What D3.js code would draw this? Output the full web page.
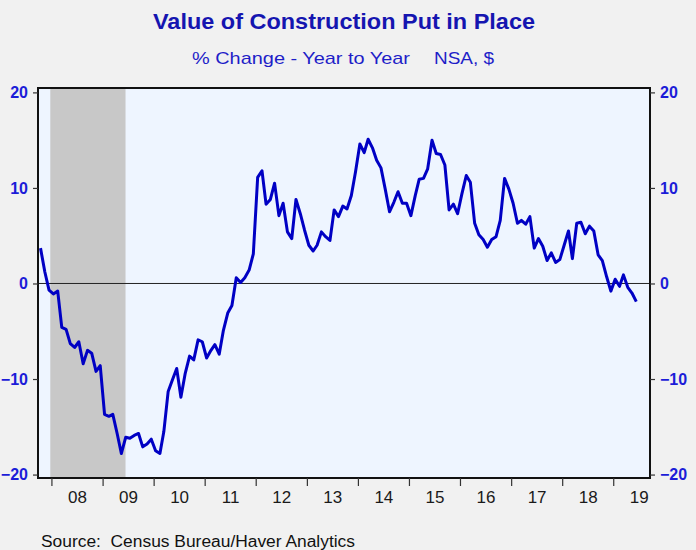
<!DOCTYPE html>
<html>
<head>
<meta charset="utf-8">
<script src="https://cdn.jsdelivr.net/npm/d3@7"></script>
<style>
  body { margin: 0; background: #f1f1f1; }
  svg { display: block; font-family: "Liberation Sans", Arial, sans-serif; }
</style>
</head>
<body>
<div id="chart"></div>
<script>
// Monthly % change, year to year (NSA), Oct 2007 .. Jun 2019
var startMonth = new Date(2007, 9, 1);
var values2007 = [3.7, 1.2, -0.7];
var values2008 = [-1.1, -0.8, -4.6, -4.8, -6.3, -6.7, -6.1, -8.4, -7.0, -7.3, -9.2, -8.6];
var values2009 = [-13.7, -13.9, -13.7, -15.7, -17.8, -16.1, -16.2, -15.9, -15.7, -17.1, -16.8, -16.3];
var values2010 = [-17.5, -17.8, -15.5, -11.3, -10.1, -8.9, -11.9, -9.4, -7.6, -8.0, -5.9, -6.1];
var values2011 = [-7.8, -7.0, -6.4, -7.4, -4.9, -3.1, -2.3, 0.6, 0.1, 0.6, 1.4, 3.1];
var values2012 = [11.1, 11.8, 8.3, 8.8, 10.5, 7.1, 8.4, 5.4, 4.7, 8.8, 7.3, 5.6];
var values2013 = [4.0, 3.4, 4.0, 5.4, 4.9, 4.5, 7.7, 7.0, 8.1, 7.8, 9.2, 11.7];
var values2014 = [14.6, 13.7, 15.1, 14.2, 12.9, 12.1, 9.9, 7.5, 8.5, 9.6, 8.4, 8.4];
var values2015 = [7.1, 9.2, 10.9, 11.0, 12.0, 15.0, 13.6, 13.5, 12.4, 7.7, 8.3, 7.3];
var values2016 = [9.4, 11.3, 10.6, 6.3, 5.1, 4.6, 3.8, 4.6, 4.9, 6.6, 11.0, 9.9];
var values2017 = [8.4, 6.3, 6.6, 6.2, 7.0, 3.7, 4.7, 3.9, 2.4, 3.2, 2.2, 2.5];
var values2018 = [4.0, 5.5, 2.6, 6.3, 6.4, 5.2, 6.0, 5.5, 3.0, 2.4, 0.7, -0.8];
var values2019 = [0.45, -0.3, 0.9, -0.4, -1.0, -1.9];

// Recession (shaded) and axis ticks
var recession = [new Date(2007, 11, 24), new Date(2009, 5, 14)];
var yearTicks = d3.range(2008, 2020);
var yTicks = [-20, -10, 0, 10, 20];

var allValues = [].concat(values2007, values2008, values2009, values2010, values2011,
    values2012, values2013, values2014, values2015, values2016, values2017,
    values2018, values2019);

// each monthly point sits at mid-month
var data = allValues.map(function(v, i) {
    return { date: new Date(startMonth.getFullYear(), startMonth.getMonth() + i, 15), value: v };
});

var svgWidth = 696;
var svgHeight = 550;

var margin = { top: 88, right: 46, bottom: 72, left: 38 };
var width = svgWidth - margin.left - margin.right;
var height = svgHeight - margin.top - margin.bottom;

var svg = d3.select("#chart")
    .append("svg")
    .attr("width", svgWidth)
    .attr("height", svgHeight);

svg.append("rect")
    .attr("width", svgWidth)
    .attr("height", svgHeight)
    .attr("fill", "#f1f1f1");

var chartGroup = svg.append("g")
    .attr("transform", `translate(${margin.left}, ${margin.top})`);

var xScale = d3.scaleTime()
    .domain([new Date(2007, 8, 27), new Date(2019, 8, 21)])
    .range([0, width]);

var yScale = d3.scaleLinear()
    .domain([-20.36, 20.46])
    .range([height, 0]);

// plot background
chartGroup.append("rect")
    .attr("width", width)
    .attr("height", height)
    .attr("fill", "#eef5ff");

// recession band
chartGroup.append("rect")
    .attr("x", xScale(recession[0]))
    .attr("y", 0)
    .attr("width", xScale(recession[1]) - xScale(recession[0]))
    .attr("height", height)
    .attr("fill", "#c8c8c8");

// zero line
chartGroup.append("line")
    .attr("x1", 0)
    .attr("x2", width)
    .attr("y1", yScale(0))
    .attr("y2", yScale(0))
    .attr("stroke", "#222")
    .attr("stroke-width", 1);

var line = d3.line()
    .x(d => xScale(d.date))
    .y(d => yScale(d.value));

chartGroup.append("path")
    .datum(data)
    .attr("fill", "none")
    .attr("stroke", "#0000c4")
    .attr("stroke-width", 3)
    .attr("stroke-linejoin", "round")
    .attr("d", line);

// frame
chartGroup.append("rect")
    .attr("width", width)
    .attr("height", height)
    .attr("fill", "none")
    .attr("stroke", "#111")
    .attr("stroke-width", 2);

// y axes, both sides
var leftAxis = d3.axisLeft(yScale)
    .tickValues(yTicks)
    .tickSize(5)
    .tickPadding(5)
    .tickSizeOuter(0);

var rightAxis = d3.axisRight(yScale)
    .tickValues(yTicks)
    .tickSize(5)
    .tickPadding(5)
    .tickSizeOuter(0);

chartGroup.append("g")
    .attr("class", "y-axis")
    .call(leftAxis);

chartGroup.append("g")
    .attr("class", "y-axis")
    .attr("transform", `translate(${width}, 0)`)
    .call(rightAxis);

chartGroup.selectAll(".y-axis text")
    .attr("fill", "#1c1cd8")
    .attr("font-size", 16)
    .attr("font-weight", "bold");

// x axis: year ticks, labels centred on each year
var bottomAxis = d3.axisBottom(xScale)
    .tickValues(yearTicks.map(y => new Date(y, 0, 1)))
    .tickSize(8)
    .tickFormat("")
    .tickSizeOuter(0);

var labelAxis = d3.axisBottom(xScale)
    .tickValues(yearTicks.map(y => new Date(y, 6, 2)))
    .tickSize(0)
    .tickPadding(13)
    .tickFormat(d3.timeFormat("%y"));

chartGroup.append("g")
    .attr("transform", `translate(0, ${height})`)
    .call(bottomAxis);

chartGroup.append("g")
    .attr("class", "x-labels")
    .attr("transform", `translate(0, ${height})`)
    .call(labelAxis)
    .call(g => g.select(".domain").remove());

chartGroup.selectAll(".x-labels text")
    .attr("fill", "#1a1a1a")
    .attr("font-size", 17);

chartGroup.selectAll(".domain")
    .attr("stroke", "none");

chartGroup.selectAll(".tick line")
    .attr("stroke", "#333")
    .attr("stroke-width", 1.2);

// titles
svg.append("text")
    .attr("x", 153)
    .attr("y", 28.5)
    .attr("textLength", 382)
    .attr("lengthAdjust", "spacingAndGlyphs")
    .attr("font-size", 22)
    .attr("font-weight", "bold")
    .attr("fill", "#1515b0")
    .text("Value of Construction Put in Place");

svg.append("text")
    .attr("x", 192)
    .attr("y", 64)
    .attr("textLength", 218)
    .attr("lengthAdjust", "spacingAndGlyphs")
    .attr("font-size", 17)
    .attr("fill", "#1e1ec8")
    .text("% Change - Year to Year");

svg.append("text")
    .attr("x", 434)
    .attr("y", 64)
    .attr("textLength", 60)
    .attr("lengthAdjust", "spacingAndGlyphs")
    .attr("font-size", 17)
    .attr("fill", "#1e1ec8")
    .text("NSA, $");

svg.append("text")
    .attr("x", 41)
    .attr("y", 547)
    .attr("textLength", 314)
    .attr("lengthAdjust", "spacingAndGlyphs")
    .attr("font-size", 16)
    .attr("fill", "#111")
    .attr("xml:space", "preserve")
    .text("Source:  Census Bureau/Haver Analytics");
</script>
</body>
</html>
